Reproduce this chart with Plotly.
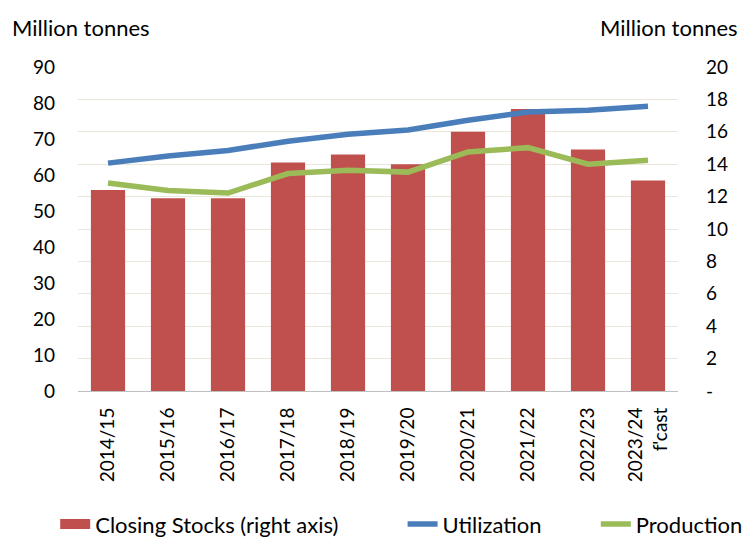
import plotly.graph_objects as go

categories = ["2014/15", "2015/16", "2016/17", "2017/18", "2018/19", "2019/20",
              "2020/21", "2021/22", "2022/23", "2023/24<br>f'cast"]
closing_stocks = [12.4, 11.9, 11.9, 14.1, 14.6, 14.0, 16.0, 17.4, 14.9, 13.0]
utilization = [63.3, 65.3, 66.8, 69.4, 71.3, 72.5, 75.2, 77.5, 78.0, 79.1]
production = [57.8, 55.7, 55.0, 60.4, 61.3, 60.8, 66.4, 67.6, 63.0, 64.1]

left_ticks = list(range(0, 91, 10))
right_ticks = list(range(0, 21, 2))
right_labels = ["-"] + [str(v) for v in right_ticks[1:]]

FONT = "Lato, Carlito, 'Open Sans', sans-serif"
BAR_COLOR = "#C0504D"
BLUE = "#4A7EBB"
GREEN = "#9BBB59"

fig = go.Figure()
# bars on the primary (right-side) axis so lines draw on top
fig.add_trace(go.Bar(x=categories, y=closing_stocks, name="Closing Stocks (right axis)",
                     marker=dict(color=BAR_COLOR, line=dict(width=0)), yaxis="y",
                     showlegend=False))
# legend-only entry with a wide block symbol
fig.add_trace(go.Scatter(x=[None], y=[None], name="Closing Stocks (right axis)", mode="lines",
                         line=dict(color=BAR_COLOR, width=13), yaxis="y", legend="legend"))
fig.add_trace(go.Scatter(x=categories, y=utilization, name="Utilization", mode="lines",
                         line=dict(color=BLUE, width=5.5), yaxis="y2", legend="legend2"))
fig.add_trace(go.Scatter(x=categories, y=production, name="Production", mode="lines",
                         line=dict(color=GREEN, width=5.5), yaxis="y2", legend="legend3"))

LEG_Y = -0.411
leg_common = dict(orientation="h", xanchor="left", y=LEG_Y, yanchor="middle",
                  font=dict(size=22), bgcolor="rgba(0,0,0,0)", itemwidth=30)

fig.update_layout(
    width=746, height=530,
    margin=dict(l=70, r=76, t=59, b=147, autoexpand=False),
    plot_bgcolor="white", paper_bgcolor="white",
    font=dict(family=FONT, size=20, color="#000000"),
    bargap=0.43,
    showlegend=True,
    legend=dict(x=-0.038, **leg_common),
    legend2=dict(x=0.541, **leg_common),
    legend3=dict(x=0.863, **leg_common),
    xaxis=dict(type="category", tickangle=-90, showgrid=False, showline=True,
               linecolor="#BFBFBF", linewidth=1, ticks="", tickfont=dict(size=19),
               ticklabelstandoff=8),
    yaxis=dict(range=[0, 20], tickvals=right_ticks, ticktext=right_labels, side="right",
               showgrid=True, gridcolor="#EAE6D9", gridwidth=1, zeroline=False,
               showline=False, ticks="", tickfont=dict(size=19), ticklabelstandoff=27),
    yaxis2=dict(range=[0, 90], tickvals=left_ticks, overlaying="y", side="left",
                showgrid=False, zeroline=False, showline=False, ticks="",
                tickfont=dict(size=19), ticklabelstandoff=22),
    annotations=[
        dict(text="Million tonnes", xref="paper", yref="paper", x=-0.113, y=1.1225,
             xanchor="left", yanchor="middle", showarrow=False, font=dict(size=22)),
        dict(text="Million tonnes", xref="paper", yref="paper", x=1.103, y=1.1225,
             xanchor="right", yanchor="middle", showarrow=False, font=dict(size=22)),
    ],
)

fig.write_html("out.html")
